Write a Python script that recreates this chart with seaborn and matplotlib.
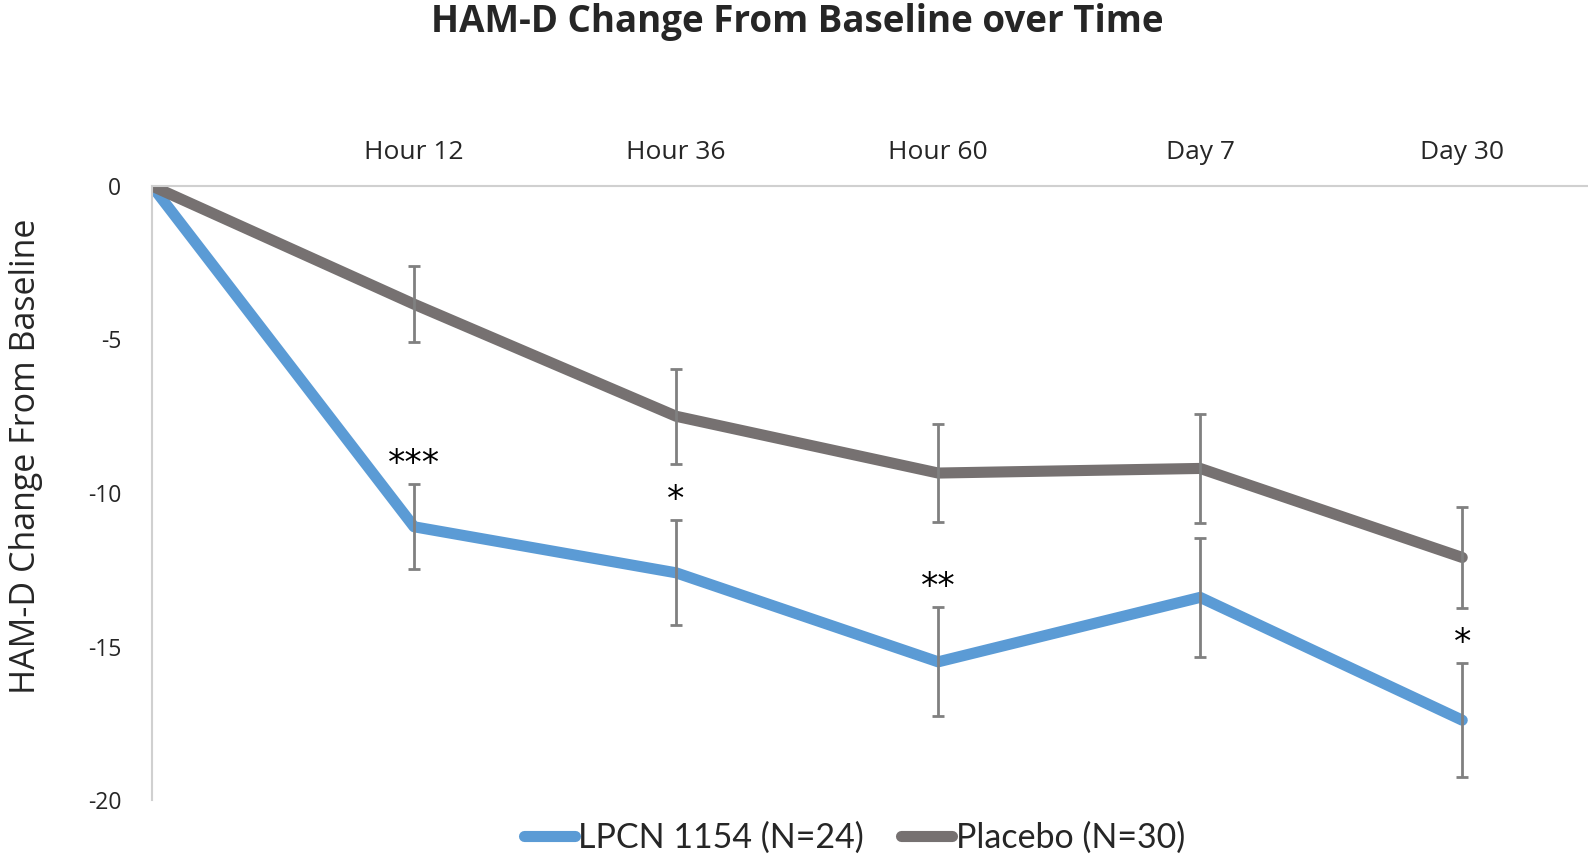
import numpy as np
import pandas as pd
import seaborn as sns
import matplotlib.pyplot as plt

# time points (first one is the baseline at 0)
time_pos = [0, 1, 2, 3, 4, 5]
time_labels = ["", "Hour 12", "Hour 36", "Hour 60", "Day 7", "Day 30"]

lpcn = [0, -11.1, -12.6, -15.5, -13.4, -17.4]
lpcn_err = [0, 1.38, 1.71, 1.78, 1.95, 1.85]
placebo = [0, -3.85, -7.5, -9.35, -9.2, -12.1]
placebo_err = [0, 1.24, 1.55, 1.6, 1.77, 1.65]
stars = ["", "***", "*", "**", "", "*"]

names = ["LPCN 1154 (N=24)", "Placebo (N=30)"]
colors = {"LPCN 1154 (N=24)": "#5B9BD5", "Placebo (N=30)": "#767171"}

df = pd.DataFrame({
    "time": time_pos * 2,
    "value": lpcn + placebo,
    "err": lpcn_err + placebo_err,
    "group": [names[0]] * len(time_pos) + [names[1]] * len(time_pos),
})

sns.set_style("white")
plt.rcParams['font.family'] = ['Open Sans', 'DejaVu Sans']

fig = plt.figure(figsize=(15.88, 8.68), dpi=100)
ax = fig.add_axes([152 / 1588, 1 - 800 / 868, 1 - 152 / 1588, (800 - 186) / 868])

sns.lineplot(data=df, x="time", y="value", hue="group", palette=colors,
             linewidth=8, legend=False, ax=ax, solid_capstyle="round", zorder=2)

# error bars (skip the baseline point)
for g in names:
    d = df[(df.group == g) & (df.time > 0)]
    ax.errorbar(d["time"], d["value"], yerr=d["err"], fmt="none", ecolor="#808080",
                elinewidth=2, capsize=4.5, capthick=2, zorder=3)

# significance stars above the LPCN bars
d = df[df.group == names[0]].reset_index(drop=True)
for i in range(1, len(time_pos)):
    if stars[i]:
        ax.text(d.time[i], d.value[i] + d.err[i] + 0.1, stars[i], ha="center", va="bottom",
                fontsize=25, family=["DejaVu Sans"], color="black")

ax.set_xlim(0, 5.48)
ax.set_ylim(-20, 0)
ax.set_yticks([0, -5, -10, -15, -20])
ax.set_yticklabels(["0", "-5", "-10", "-15", "-20"], fontsize=16.5)
ax.set_xticks(time_pos[1:])
ax.set_xticklabels(time_labels[1:], fontsize=19)
ax.xaxis.tick_top()
ax.tick_params(axis="x", length=0, pad=15)
ax.tick_params(axis="y", length=0, pad=22)
ax.set_xlabel("")
ax.set_ylabel("HAM-D Change From Baseline", fontsize=24.5, va="center")
ax.yaxis.set_label_coords(-0.088, 0.559)

for s in ["bottom", "right"]:
    ax.spines[s].set_visible(False)
for s in ["top", "left"]:
    ax.spines[s].set_color("#D0D0D0")
    ax.spines[s].set_linewidth(1.5)

fig.text(0.502, 1 - 22 / 868, "HAM-D Change From Baseline over Time", ha="center", va="center",
         fontsize=26.5, fontweight="bold")

handles = [plt.Line2D([], [], color=colors[n], linewidth=8, solid_capstyle="round") for n in names]
fig.legend(handles, names, loc="center", bbox_to_anchor=(0.538, 1 - 838 / 868), ncol=2,
           frameon=False, handlelength=1.5, handletextpad=0.1, columnspacing=1.1,
           prop={"family": ["Lato", "DejaVu Sans"], "size": 24.5})

fig.savefig("out.png", dpi=100)
